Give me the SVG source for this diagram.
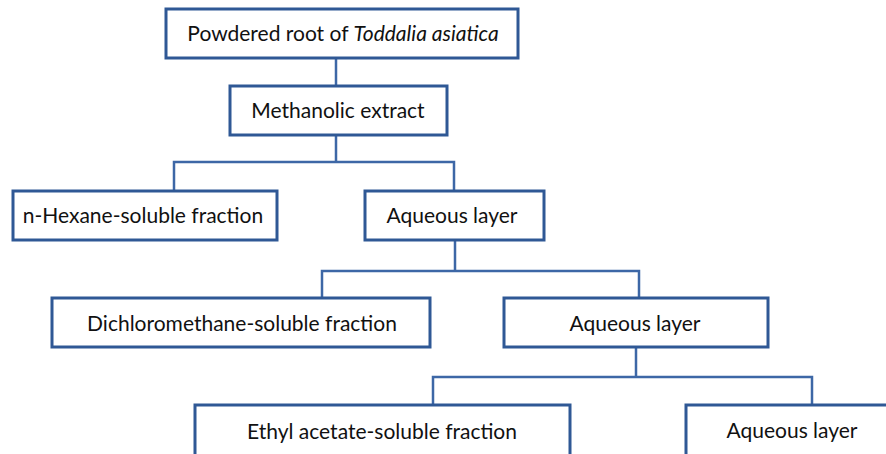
<svg xmlns="http://www.w3.org/2000/svg" width="886" height="454" viewBox="0 0 886 454">
<style>
.box{fill:#ffffff;stroke:#2f5895;stroke-width:3}
.ln{fill:none;stroke:#3d67a6;stroke-width:2.5}
text{font-family:Lato,"Liberation Sans",sans-serif;font-size:21px;fill:#111111;text-anchor:middle}
</style>
<rect width="886" height="454" fill="#ffffff"/>
<g id="connectors">
<path class="ln" d="M336,58V86M336,135V162M174,191V162H454V191M455,240V271M322,298V271H639V298M636,347V377M433,405V377H812V405"/>
</g>
<g id="n1"><rect class="box" x="166" y="9" width="352" height="49"/><text x="343" y="41">Powdered root of <tspan font-style="italic">Toddalia asiatica</tspan></text></g>
<g id="n2"><rect class="box" x="230" y="86" width="217" height="49"/><text x="338" y="118">Methanolic extract</text></g>
<g id="n3"><rect class="box" x="13" y="191" width="264" height="49"/><text x="143" y="223">n-Hexane-soluble fraction</text></g>
<g id="n4"><rect class="box" x="365" y="191" width="179" height="49"/><text x="452" y="223">Aqueous layer</text></g>
<g id="n5"><rect class="box" x="52" y="298" width="378" height="49"/><text x="242" y="331">Dichloromethane-soluble fraction</text></g>
<g id="n6"><rect class="box" x="504" y="298" width="264" height="49"/><text x="635" y="331">Aqueous layer</text></g>
<g id="n7"><rect class="box" x="195" y="405" width="375" height="60"/><text x="382" y="439">Ethyl acetate-soluble fraction</text></g>
<g id="n8"><rect class="box" x="686" y="405" width="210" height="60"/><text x="792" y="438">Aqueous layer</text></g>
</svg>
